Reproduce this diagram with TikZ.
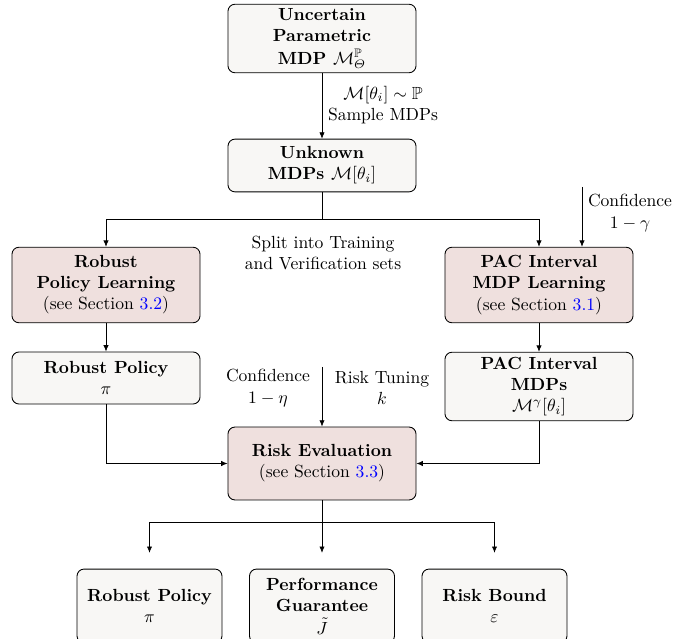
\documentclass[tikz,border=0pt]{standalone}
\usepackage{amsmath}
\usepackage{amssymb}
\usepackage{xcolor}
\usetikzlibrary{arrows.meta}
\definecolor{boxgray}{RGB}{248,247,245}
\definecolor{boxpink}{RGB}{239,224,222}

\begin{document}
\begin{tikzpicture}[x=0.569pt,y=-0.569pt,
  box/.style={draw,line width=0.5pt,rounded corners=4pt,fill=boxgray,align=center,
    font=\bfseries,minimum width=107pt,inner sep=2pt},
  stepbox/.style={box,fill=boxpink},
  outbox/.style={box,minimum width=82.5pt,minimum height=42pt},
  arr/.style={-{Latex[length=3.6pt,width=3pt]}},
  lbl/.style={align=center}]
  \useasboundingbox (0,0) rectangle (673,639);

  % boxes
  \node[box,minimum height=39pt] (upmdp) at (322,38.5) {Uncertain\\Parametric\\[1pt]MDP $\mathcal{M}^{\mathbb{P}}_{\varTheta}$};
  \node[box,minimum height=30pt] (unk) at (322,165.5) {Unknown\\MDPs $\mathcal{M}[\theta_i]$};
  \node[stepbox,minimum height=43pt] (rpl) at (106,285) {Robust\\Policy Learning\\{\normalfont(see Section \textcolor{blue}{3.2})}};
  \node[stepbox,minimum height=43pt] (pacl) at (539,285) {PAC Interval\\MDP Learning\\{\normalfont(see Section \textcolor{blue}{3.1})}};
  \node[box,minimum height=29.6pt] (rpol) at (106,378) {Robust Policy\\$\pi$};
  \node[box,minimum height=39pt] (pacm) at (539,386.5) {PAC Interval\\MDPs\\$\mathcal{M}^{\gamma}[\theta_i]$};
  \node[stepbox,minimum height=41.5pt] (risk) at (322,463.5) {Risk Evaluation\\{\normalfont(see Section \textcolor{blue}{3.3})}};
  \node[outbox] (opol) at (149.5,606) {Robust Policy\\$\pi$};
  \node[outbox] (oguar) at (322,606) {Performance\\Guarantee\\[1pt]$\tilde{J}$};
  \node[outbox] (obound) at (494.5,606) {Risk Bound\\$\varepsilon$};

  % labels
  \node[lbl] (samplbl) at (383,105) {$\mathcal{M}[\theta_i]\sim\mathbb{P}$\\Sample MDPs};
  \node[lbl] (splitlbl) at (323,253) {Split into Training\\and Verification sets};
  \node[lbl] (gamlbl) at (630,213) {Confidence\\$1-\gamma$};
  \node[lbl] (etalbl) at (268,388) {Confidence\\$1-\eta$};
  \node[lbl] (klbl) at (382,388) {Risk Tuning\\$k$};

  \coordinate (gamtop) at (582,187);
  \coordinate (etatop) at (322,367);
  \coordinate (split) at (322,219.5);
  \coordinate (fan) at (322,522);

  % connectors
  \draw[arr] (upmdp) -- (unk);
  \draw (unk) -- (split);
  \draw[arr] (split) -| (rpl);
  \draw[arr] (split) -| (pacl);
  \draw[arr] (gamtop) -- (gamtop |- pacl.north);
  \draw[arr] (rpl) -- (rpol);
  \draw[arr] (pacl) -- (pacm);
  \draw[arr] (etatop) -- (risk);
  \draw[arr] (rpol) |- (risk);
  \draw[arr] (pacm) |- (risk);
  \draw (risk) -- (fan);
  \draw[arr,shorten >=9pt] (fan) -| (opol);
  \draw[arr,shorten >=9pt] (fan) -- (oguar);
  \draw[arr,shorten >=9pt] (fan) -| (obound);
\end{tikzpicture}
\end{document}
